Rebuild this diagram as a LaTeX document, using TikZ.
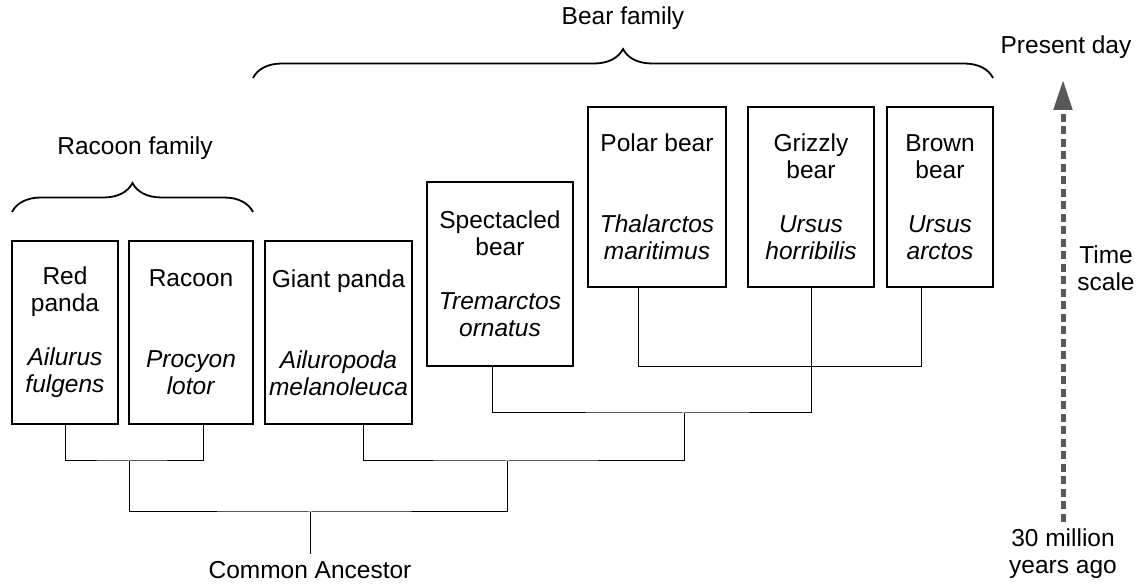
\documentclass[tikz,border=0pt]{standalone}
\usepackage{fontspec}
\setmainfont{Liberation Sans}
\usetikzlibrary{arrows.meta,positioning,calc}
\usetikzlibrary{decorations.pathreplacing}
\definecolor{scalegray}{RGB}{89,89,89}
\tikzset{
    taxon/.style={
        draw,line width=1.6pt,inner sep=2pt,outer sep=0pt,
        align=center,anchor=north west,minimum height=#1
    },
    taxon/.default=183pt,
    link/.style={line width=1pt},
    family/.style={
        decorate,decoration={brace,amplitude=29pt},line width=1.8pt
    },
    timearrow/.style={
        -{Triangle[length=30pt,width=18pt]},line width=5pt,
        draw=scalegray,dash pattern=on 8pt off 4.5pt
    }
}

\begin{document}
\begin{tikzpicture}[x=1pt,y=1pt,font=\fontsize{24.5pt}{27pt}\selectfont]
\useasboundingbox (0,0) rectangle (1139,583);

% racoon family
\node[taxon,minimum width=106pt] (red) at (12,342)
{Red\\panda\\[27pt]\textit{Ailurus}\\\textit{fulgens}};
\node[taxon,minimum width=124pt,right=11pt of red] (racoon)
{Racoon\\[54pt]\textit{Procyon}\\\textit{lotor}};

% bear family
\node[taxon,minimum width=147pt,right=12pt of racoon] (giant)
{Giant panda\\[54pt]\textit{Ailuropoda}\\\textit{melanoleuca}};
\node[taxon=184pt,minimum width=146pt] (spect) at (427,401)
{Spectacled\\bear\\[27pt]\textit{Tremarctos}\\\textit{ornatus}};
\node[taxon=180pt,minimum width=138pt] (polar) at (588,476)
{Polar bear\\[54pt]\textit{Thalarctos}\\\textit{maritimus}};
\node[taxon=180pt,minimum width=126pt,right=22pt of polar] (grizzly)
{Grizzly\\bear\\[27pt]\textit{Ursus}\\\textit{horribilis}};
\node[taxon=180pt,minimum width=106pt,right=13pt of grizzly] (brown)
{Brown\\bear\\[27pt]\textit{Ursus}\\\textit{arctos}};

\node[inner xsep=0pt,inner ysep=7pt,anchor=north] (ancestor) at (310,29)
{Common Ancestor};

% branch points
\coordinate (rr) at (129,122);
\coordinate (root) at (310,71);
\coordinate (pandabears) at (507,122);
\coordinate (bears) at (684,170);

\draw[link] (red.south) |- (rr) -| ([xshift=12pt]racoon.south);
\draw[link] (rr) |- (root) -| (pandabears);
\draw[link] ([xshift=24.5pt]giant.south) |- (pandabears) -| (bears);
\draw[link] ([xshift=-8pt]spect.south) |- (bears) -| (grizzly.south);
\draw[link] ([xshift=-19pt]polar.south) -- ++(0,-80pt)
    -| ([xshift=-19pt]brown.south);
\draw[link] (root) -- (ancestor);

% braces
\draw[family] (12,371) -- (253,371);
\draw[family] (253,505) -- (993,505);
\node (racoonfam) at (135,435) {Racoon family};
\node (bearfam) at (623,565) {Bear family};

% time scale
\node (present) at (1066,536) {Present day};
\node[align=center] (timescale) at (1106,315) {Time\\scale};
\node[align=center] (ago) at (1063,29) {30 million\\years ago};
\draw[timearrow] ([yshift=4pt]ago.north)
    -- ([yshift=-18pt]ago.north |- present.south);

\end{tikzpicture}
\end{document}
